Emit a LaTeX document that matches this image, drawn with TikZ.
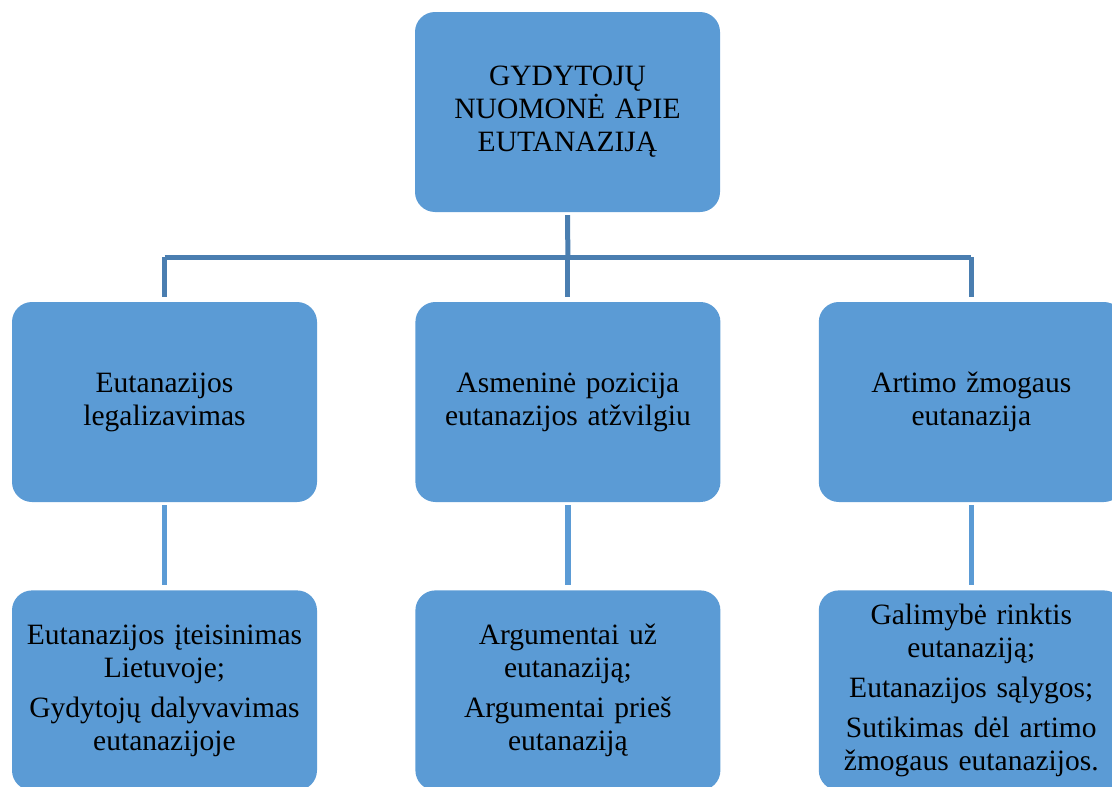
\documentclass[tikz,border=0pt]{standalone}
\usepackage{fontspec}
\setmainfont{Liberation Serif}
\usetikzlibrary{positioning,calc}
\definecolor{boxblue}{HTML}{5B9BD5}
\definecolor{busblue}{HTML}{4A7EB0}
\tikzset{
  topic/.style={draw=none,fill=boxblue,rounded corners=20pt,minimum width=305pt,
    minimum height=200pt,inner sep=0pt,text width=295pt,align=center,
    font=\fontsize{29.5}{33}\selectfont},
  bus/.style={busblue,line width=5pt},
  drop/.style={boxblue,line width=5.5pt,shorten <=3pt,shorten >=5pt},
}
\begin{document}
\begin{tikzpicture}[x=1pt,y=-1pt]
  \useasboundingbox (0,0) rectangle (1112,787);
  \clip (0,0) rectangle (1112,787);
  % top
  \node[topic] (root) at (567.5,112) {GYDYTOJŲ\\NUOMONĖ APIE\\EUTANAZIJĄ};
  % middle row
  \node[topic] (legal) at (164.5,402) {Eutanazijos\\legalizavimas};
  \node[topic,right=98pt of legal] (pos) {Asmeninė pozicija\\eutanazijos atžvilgiu};
  \node[topic,right=98pt of pos] (near) {Artimo žmogaus\\eutanazija};
  % bottom row
  \node[topic,below=88pt of legal] (legal2) {Eutanazijos įteisinimas\\Lietuvoje;\\[7pt]
    Gydytojų dalyvavimas\\eutanazijoje};
  \node[topic,below=88pt of pos] (pos2) {Argumentai už\\eutanaziją;\\[7pt]
    Argumentai prieš\\eutanaziją};
  \node[topic,below=88pt of near] (near2) {Galimybė rinktis\\eutanaziją;\\[7pt]
    Eutanazijos sąlygos;\\[7pt]Sutikimas dėl artimo\\žmogaus eutanazijos.};
  % connectors
  \coordinate (hub) at ($(root.south)!0.5!(pos.north)$);
  \draw[bus,shorten <=3pt] (root.south) -- (pos.north |- hub);
  \draw[bus] (legal.north |- hub) -- (near.north |- hub);
  \foreach \n in {legal,pos,near}
    \draw[bus,shorten >=5pt] (\n.north |- hub) -- (\n.north);
  \draw[drop] (legal.south) -- (legal2.north);
  \draw[drop] (pos.south) -- (pos2.north);
  \draw[drop] (near.south) -- (near2.north);
\end{tikzpicture}
\end{document}
